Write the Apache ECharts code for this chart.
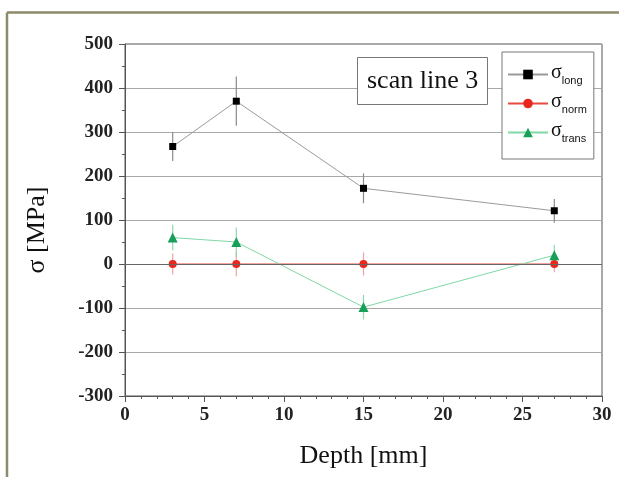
<!DOCTYPE html>
<html><head><meta charset="utf-8">
<script src="https://cdn.jsdelivr.net/npm/echarts@6/dist/echarts.min.js"></script>
<style>html,body{margin:0;padding:0;background:#fff}#c{width:619px;height:477px}</style>
</head><body><div id="c"></div>
<script>
const depth = [3, 7, 15, 27];
const sigmaLong = [267, 370, 172, 121];
const sigmaLongErr = [33, 56, 34, 27];
const sigmaNorm = [0, 0, 0, 0];
const sigmaNormErr = [24, 28, 26, 19];
const sigmaTrans = [60, 50, -98, 20];
const sigmaTransErr = [29, 33, 28, 23];
const seriesNames = ['long', 'norm', 'trans'];
const xTicks = [0, 5, 10, 15, 20, 25, 30];
const yTicks = [-300, -200, -100, 0, 100, 200, 300, 400, 500];

const chart = echarts.init(document.getElementById('c'), null, {renderer: 'canvas'});
const serif = 'Liberation Serif';

function pts(vals) { return depth.map((d, i) => [d, vals[i]]); }
function errs(vals, e) { return depth.map((d, i) => [d, vals[i] - e[i], vals[i] + e[i]]); }
function errSeries(data, color, extra) {
  return Object.assign({
    type: 'custom', silent: true, z: 1,
    renderItem: function (params, api) {
      const a = api.coord([api.value(0), api.value(1)]);
      const b = api.coord([api.value(0), api.value(2)]);
      return {type: 'line', shape: {x1: a[0], y1: a[1], x2: b[0], y2: b[1]},
        style: {stroke: color, lineWidth: 1.2}};
    },
    data: data
  }, extra || {});
}

chart.setOption({
  animation: false,
  backgroundColor: '#fff',
  grid: {left: 125, right: 17, top: 44, bottom: 81, show: true, borderColor: '#555', borderWidth: 1, backgroundColor: 'transparent'},
  title: {
    text: 'scan line 3', left: 357, top: 57,
    padding: [11, 10, 11, 10],
    borderColor: '#777', borderWidth: 1, backgroundColor: '#fff',
    textStyle: {fontFamily: serif, fontSize: 26, fontWeight: 'normal', color: '#111'}
  },
  legend: {
    data: seriesNames, orient: 'vertical', left: 502, top: 52,
    padding: [11, 7, 15, 5], itemGap: 6,
    itemWidth: 40, itemHeight: 12,
    borderColor: '#777', borderWidth: 1, backgroundColor: '#fff',
    formatter: function (n) { return '{s|σ}{sub|' + n + '}'; },
    textStyle: {
      padding: [0, 0, 0, -2],
      rich: {
        s: {fontFamily: serif, fontSize: 20, color: '#111', lineHeight: 23, verticalAlign: 'top'},
        sub: {fontFamily: 'Liberation Sans', fontSize: 11, color: '#111', lineHeight: 12, verticalAlign: 'bottom'}
      }
    }
  },
  xAxis: {
    type: 'value', min: 0, max: 30, interval: 5,
    name: 'Depth [mm]', nameLocation: 'middle', nameGap: 47,
    nameTextStyle: {fontFamily: serif, fontSize: 26, color: '#111'},
    axisLine: {show: true, onZero: false, lineStyle: {color: '#555', width: 1}},
    axisTick: {show: true, inside: false, length: 6, lineStyle: {color: '#555'}},
    minorTick: {show: true, splitNumber: 5, length: 3, lineStyle: {color: '#555'}},
    axisLabel: {margin: 10, fontFamily: serif, fontSize: 19, fontWeight: 'bold', color: '#222',
      formatter: function (v) { return xTicks.indexOf(v) >= 0 ? String(v) : ''; }},
    splitLine: {show: false}
  },
  yAxis: {
    type: 'value', min: -300, max: 500, interval: 100,
    name: 'σ [MPa]', nameLocation: 'middle', nameGap: 75, nameRotate: 90,
    nameTextStyle: {fontFamily: serif, fontSize: 26, color: '#111', padding: [0, 20, 0, 0]},
    axisLine: {show: true, lineStyle: {color: '#555', width: 1}},
    axisTick: {show: true, inside: false, length: 6, lineStyle: {color: '#555'}},
    minorTick: {show: true, splitNumber: 2, length: 3, lineStyle: {color: '#555'}},
    axisLabel: {margin: 12, fontFamily: serif, fontSize: 19, fontWeight: 'bold', color: '#222',
      formatter: function (v) { return yTicks.indexOf(v) >= 0 ? String(v) : ''; }},
    splitLine: {show: true, lineStyle: {color: '#a8a8a8', width: 1}}
  },
  graphic: [
    {type: 'line', shape: {x1: 7, y1: 12.5, x2: 619, y2: 12.5}, style: {stroke: '#8e8a6c', lineWidth: 2.5}, silent: true},
    {type: 'line', shape: {x1: 7, y1: 12.5, x2: 7, y2: 477}, style: {stroke: '#8e8a6c', lineWidth: 2.5}, silent: true}
  ],
  series: [
    errSeries(errs(sigmaLong, sigmaLongErr), '#8a8a8a', {
      markLine: {silent: true, symbol: 'none', label: {show: false},
        lineStyle: {color: '#666', width: 1, type: 'solid'}, data: [{yAxis: 0}]}
    }),
    errSeries(errs(sigmaNorm, sigmaNormErr), '#f5a0a0'),
    errSeries(errs(sigmaTrans, sigmaTransErr), '#8fd8ae'),
    {name: 'long', type: 'line', z: 3, data: pts(sigmaLong), symbol: 'rect', symbolSize: 7,
      itemStyle: {color: '#000'}, lineStyle: {color: '#9a9a9a', width: 1}},
    {name: 'norm', type: 'line', z: 3, data: pts(sigmaNorm), symbol: 'circle', symbolSize: 8,
      itemStyle: {color: '#e8281e'}, lineStyle: {color: '#e84a40', width: 1}},
    {name: 'trans', type: 'line', z: 3, data: pts(sigmaTrans), symbol: 'triangle', symbolSize: 10,
      itemStyle: {color: '#17a058'}, lineStyle: {color: '#7fd8a6', width: 1}}
  ]
});
</script></body></html>
